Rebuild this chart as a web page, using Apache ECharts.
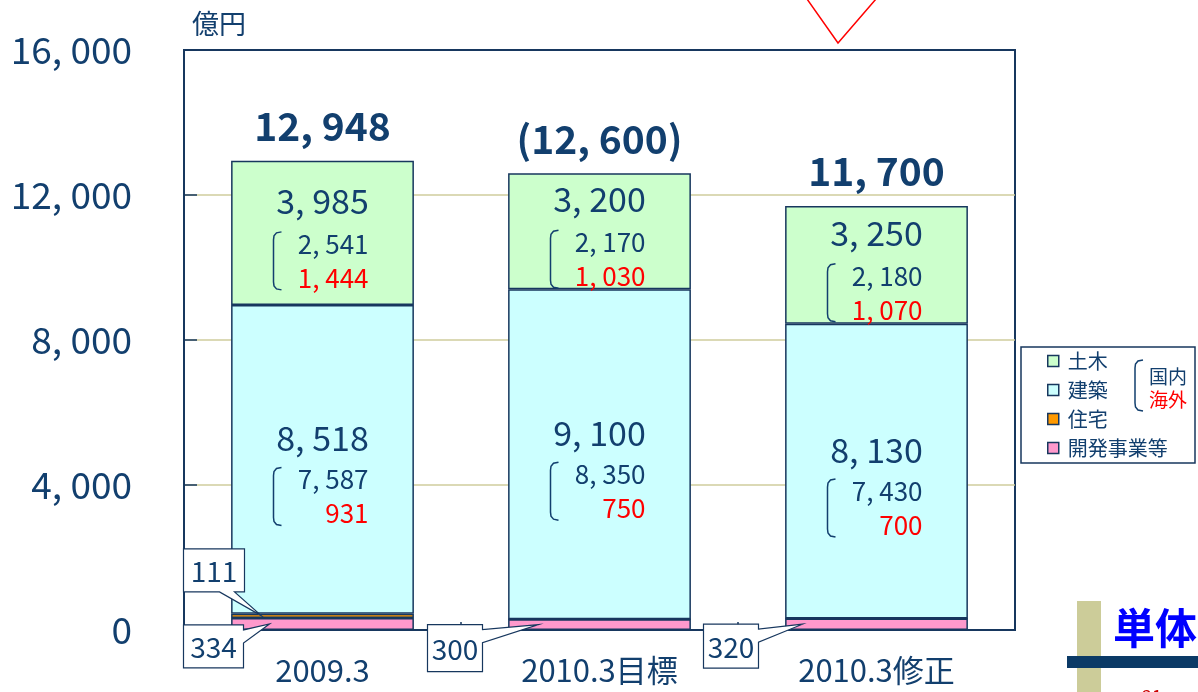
<!DOCTYPE html>
<html>
<head>
<meta charset="utf-8">
<script src="https://cdn.jsdelivr.net/npm/echarts@6/dist/echarts.min.js"></script>
<style>
  html, body { margin: 0; padding: 0; background: #fff; }
  #chart { width: 1198px; height: 692px; }
</style>
</head>
<body>
<div id="chart"></div>
<script>
// 売上高の推移（単体）
const categories = ['2009.3', '2010.3目標', '2010.3修正']
const isTarget = [false, true, false]
const devValues = [334, 300, 320]
const housingValues = [111, 0, 0]
const buildValues = [8518, 9100, 8130]
const buildDomestic = [7587, 8350, 7430]
const buildOverseas = [931, 750, 700]
const civilValues = [3985, 3200, 3250]
const civilDomestic = [2541, 2170, 2180]
const civilOverseas = [1444, 1030, 1070]
const yTicks = [0, 4000, 8000, 12000, 16000]

const NAVY = '#123f6e'
const BORDER = '#17375e'
const FONT = 'Noto Sans CJK JP'

const fmt = n => String(n).replace(/\B(?=(\d{3})+(?!\d))/g, ', ')
const totals = categories.map((c, i) => devValues[i] + housingValues[i] + buildValues[i] + civilValues[i])

const chart = echarts.init(document.getElementById('chart'))

const barBase = {
  type: 'bar',
  stack: 'total',
  barWidth: '66%',
  itemStyle: { borderColor: BORDER, borderWidth: 1.5 }
}

const option = {
  animation: false,
  textStyle: { fontFamily: FONT },
  grid: {
    left: 184, right: 183, top: 50, bottom: 62,
    show: true, borderColor: BORDER, borderWidth: 2, backgroundColor: '#fff'
  },
  legend: {
    orient: 'vertical',
    left: 1042, top: 346,
    itemWidth: 11, itemHeight: 11, itemGap: 9,
    icon: 'rect',
    z: 5,
    selectedMode: false,
    itemStyle: { borderColor: BORDER, borderWidth: 1.5 },
    textStyle: { color: NAVY, fontSize: 20, fontFamily: FONT, padding: [0, 0, 0, 4] },
    data: ['土木', '建築', '住宅', '開発事業等']
  },
  xAxis: {
    type: 'category',
    data: categories,
    axisLine: { lineStyle: { color: BORDER, width: 2 } },
    axisTick: { show: true, inside: true, length: 8, lineStyle: { color: BORDER, width: 1.5 } },
    axisLabel: { color: NAVY, fontSize: 31, margin: 25, fontFamily: FONT }
  },
  yAxis: {
    type: 'value',
    min: yTicks[0],
    max: yTicks[yTicks.length - 1],
    interval: yTicks[1] - yTicks[0],
    axisLine: { show: true, lineStyle: { color: BORDER, width: 2 } },
    axisTick: { show: true, inside: true, length: 13, lineStyle: { color: BORDER, width: 1.5 } },
    splitLine: { showMaxLine: false, lineStyle: { color: '#cfcc9c', width: 1.5 } },
    axisLabel: { color: NAVY, fontSize: 37, margin: 52, fontFamily: FONT, formatter: v => fmt(v) }
  },
  series: [
    Object.assign({}, barBase, {
      name: '開発事業等',
      data: devValues,
      itemStyle: Object.assign({}, barBase.itemStyle, { color: '#ff99cc' })
    }),
    Object.assign({}, barBase, {
      name: '住宅',
      data: housingValues,
      itemStyle: Object.assign({}, barBase.itemStyle, { color: '#ff9900' })
    }),
    Object.assign({}, barBase, {
      name: '建築',
      data: buildValues,
      itemStyle: Object.assign({}, barBase.itemStyle, { color: '#ccffff' }),
      label: {
        show: true, position: 'inside', offset: [0, -21],
        color: NAVY, fontSize: 34, fontFamily: FONT,
        formatter: p => fmt(p.value)
      }
    }),
    Object.assign({}, barBase, {
      name: '土木',
      data: civilValues,
      itemStyle: Object.assign({}, barBase.itemStyle, { color: '#ccffcc' }),
      label: {
        show: true, position: 'inside', offset: [0, -32],
        color: NAVY, fontSize: 34, fontFamily: FONT,
        formatter: p => fmt(p.value)
      }
    }),
    {
      // 合計ラベル用（透明）
      type: 'bar',
      stack: 'total',
      barWidth: '66%',
      silent: true,
      data: categories.map(() => 0),
      itemStyle: { color: 'transparent' },
      label: {
        show: true, position: 'top', distance: 15,
        color: NAVY, fontSize: 39, fontWeight: 'bold', fontFamily: FONT,
        formatter: p => isTarget[p.dataIndex] ? '(' + fmt(totals[p.dataIndex]) + ')' : fmt(totals[p.dataIndex])
      }
    }
  ]
}
chart.setOption(option)

// 内訳（国内・海外）と吹き出し
const px = (i, v) => chart.convertToPixel({ gridIndex: 0 }, [i, v])
const graphics = []

function bracket (x, y1, y2, color) {
  return {
    type: 'polyline', z: 10,
    shape: { points: [[x + 8, y1], [x + 3, y1 + 1], [x + 0.5, y1 + 4], [x, y1 + 8], [x, y2 - 8], [x + 0.5, y2 - 4], [x + 3, y2 - 1], [x + 8, y2]] },
    style: { fill: 'none', stroke: color, lineWidth: 1.5 }
  }
}

function text (x, y, str, opt) {
  return {
    type: 'text', z: 10, x: x, y: y,
    style: Object.assign({ text: str, fill: NAVY, fontSize: 26, fontFamily: FONT, align: 'center', verticalAlign: 'middle' }, opt || {})
  }
}

categories.forEach((c, i) => {
  const base1 = devValues[i] + housingValues[i]
  // [下端, 値, 国内, 海外, 内訳1行目のずれ]
  const segs = [
    [base1, buildValues[i], buildDomestic[i], buildOverseas[i], 20],
    [base1 + buildValues[i], civilValues[i], civilDomestic[i], civilOverseas[i], 11]
  ]
  segs.forEach(s => {
    const p0 = px(i, s[0])
    const p1 = px(i, s[0] + s[1])
    const xc = p0[0]
    const y1 = (p0[1] + p1[1]) / 2 + s[4]
    graphics.push(text(xc + 46, y1, fmt(s[2]), { align: 'right' }))
    graphics.push(text(xc + 46, y1 + 34, fmt(s[3]), { align: 'right', fill: '#ff0000' }))
    graphics.push(bracket(xc - 49, y1 - 12, y1 + 46, NAVY))
  })
})

// 吹き出し：先端の位置はデータから、箱は先端からの相対
const callouts = [
  { idx: 0, value: housingValues[0], below: devValues[0], tipDx: -61, box: [-78, -67, 61, 43], side: 'bottom' },
  { idx: 0, value: devValues[0], below: 0, tipDx: -53, box: [-86, 1, 60, 43], side: 'right' },
  { idx: 1, value: devValues[1], below: 0, tipDx: -61, box: [-111, 0, 55, 47], side: 'right' },
  { idx: 2, value: devValues[2], below: 0, tipDx: -74, box: [-99, 0, 55, 44], side: 'right' }
]
callouts.forEach(co => {
  const pc = px(co.idx, co.below + co.value / 2)
  const tx = pc[0] + co.tipDx
  const ty = pc[1]
  const L = tx + co.box[0]
  const T = ty + co.box[1]
  const R = L + co.box[2]
  const B = T + co.box[3]
  let pts
  if (co.side === 'bottom') {
    pts = [[L, T], [R, T], [R, B], [tx - 27, B], [tx, ty], [tx - 42, B], [L, B]]
  } else {
    pts = [[L, T], [R, T], [R, T + 5], [tx, ty], [R, T + 18], [R, B], [L, B]]
  }
  graphics.push({
    type: 'polygon', z: 20,
    shape: { points: pts },
    style: { fill: '#fff', stroke: BORDER, lineWidth: 1.2 }
  })
  graphics.push(Object.assign(text((L + R) / 2, (T + B) / 2 + 1, String(co.value), { fontSize: 28 }), { z: 21 }))
})

// 凡例の枠と国内・海外
graphics.push({
  type: 'rect', z: 1,
  shape: { x: 1021, y: 347, width: 174, height: 116 },
  style: { fill: '#fff', stroke: BORDER, lineWidth: 1.5 }
})
graphics.push(bracket(1135, 360, 411, NAVY))
graphics.push(text(1168, 377, '国内', { fontSize: 19 }))
graphics.push(text(1168, 400, '海外', { fontSize: 19, fill: '#ff0000' }))

// 単位
graphics.push(text(192, 24, '億円', { align: 'left', fontSize: 27 }))

// 上部の赤い矢印の先
graphics.push({
  type: 'polyline', z: 10,
  shape: { points: [[807, -1], [838, 43], [876, -1]] },
  style: { stroke: '#ff0000', lineWidth: 1.5, fill: 'none' }
})

// 右下の見出し
graphics.push({ type: 'rect', z: 1, shape: { x: 1077, y: 601, width: 24, height: 91 }, style: { fill: '#cccc99' } })
graphics.push({ type: 'rect', z: 2, shape: { x: 1067, y: 656, width: 131, height: 12 }, style: { fill: '#0b3a66' } })
graphics.push({
  type: 'text', z: 3, x: 1113, y: 628,
  style: {
    text: '単体', fill: '#0000ff', fontSize: 42, fontWeight: 'bold', fontFamily: FONT,
    verticalAlign: 'middle', shadowColor: 'rgba(0,0,0,0.35)', shadowOffsetX: 2, shadowOffsetY: 2
  }
})
graphics.push(text(1142, 687, '21', { align: 'left', verticalAlign: 'top', fontSize: 18, fill: '#cc0000' }))

chart.setOption({ graphic: graphics })
</script>
</body>
</html>
